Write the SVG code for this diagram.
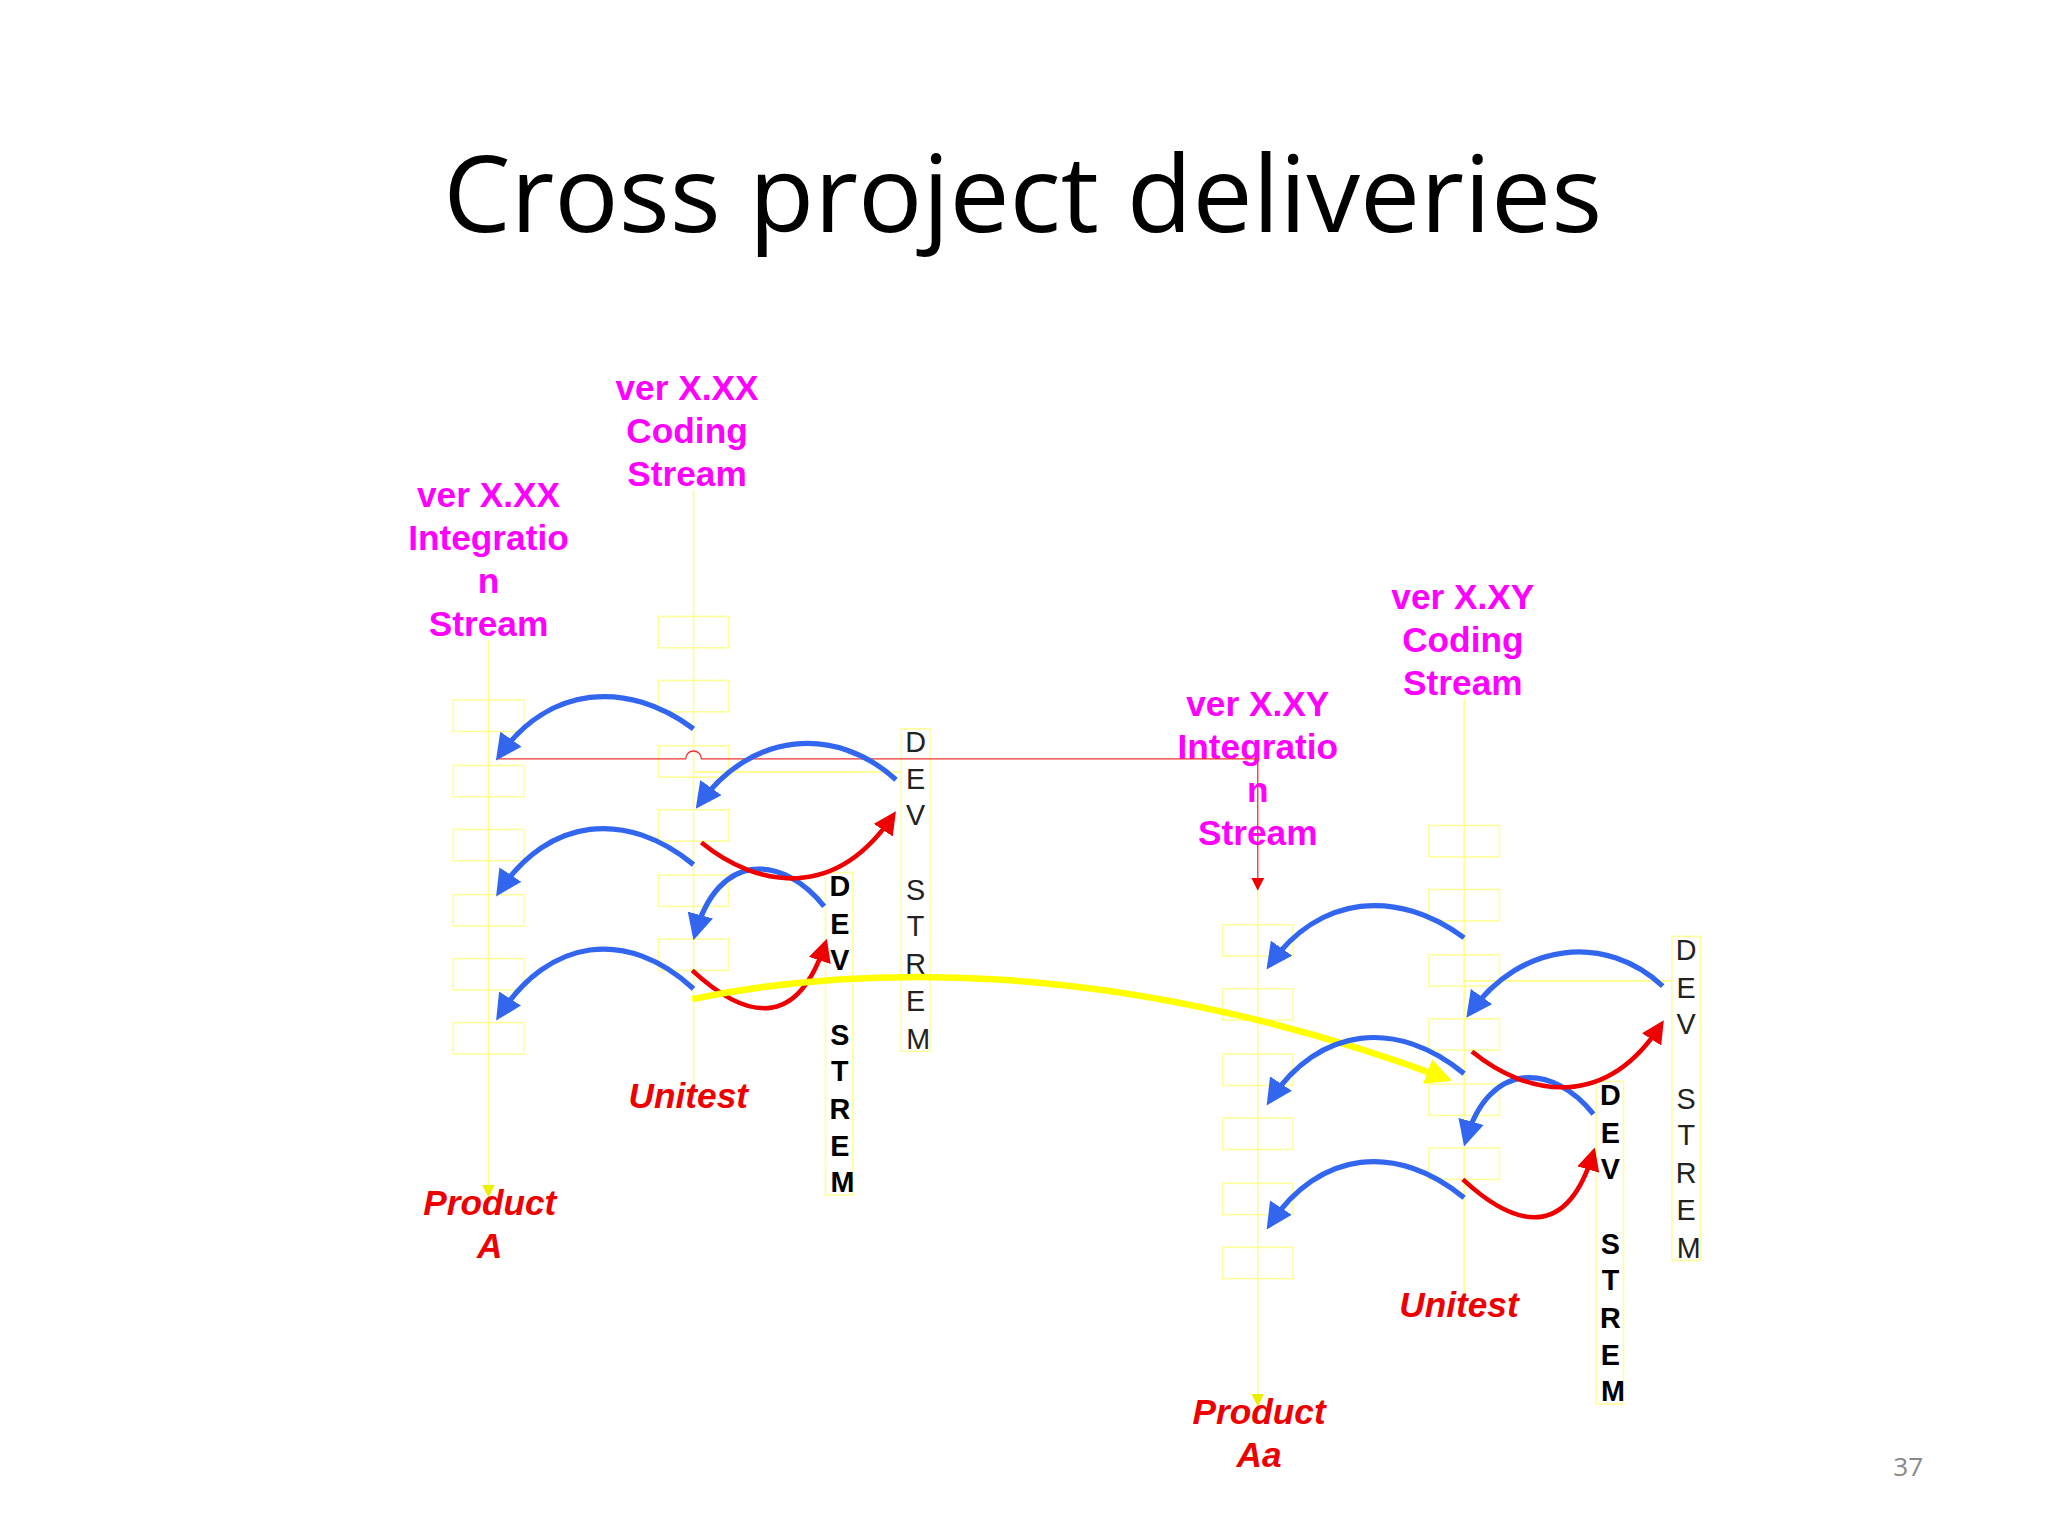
<svg xmlns="http://www.w3.org/2000/svg" width="2048" height="1536" viewBox="0 0 2048 1536">
<defs>
<style>
.lbl{font-family:"Liberation Sans",Arial,sans-serif;font-weight:bold;font-size:27px;fill:#ff00ff;text-anchor:middle}
.red{font-family:"Liberation Sans",Arial,sans-serif;font-weight:bold;font-style:italic;font-size:27px;fill:#ee0000;text-anchor:middle}
.dv{font-family:"Liberation Sans",Arial,sans-serif;font-size:22px;fill:#222;text-anchor:middle}
.dvb{font-family:"Liberation Sans",Arial,sans-serif;font-weight:bold;font-size:22px;fill:#000;text-anchor:middle}
.box{fill:none;stroke:#ffff99;stroke-width:1.2}
.yl{stroke:#ffff88;stroke-width:1.2;fill:none}
.b{fill:none;stroke:#3366ee;stroke-width:4;marker-end:url(#ab)}
.r{fill:none;stroke:#ee0000;stroke-width:3.5;marker-end:url(#ar)}
</style>
<marker id="ab" viewBox="0 0 10 10" refX="8" refY="5" markerWidth="5" markerHeight="5" orient="auto"><path d="M0,0L10,5L0,10z" fill="#3366ee"/></marker>
<marker id="ar" viewBox="0 0 10 10" refX="8" refY="5" markerWidth="5" markerHeight="5" orient="auto"><path d="M0,0L10,5L0,10z" fill="#ee0000"/></marker>
<marker id="ay" viewBox="0 0 10 10" refX="8" refY="5" markerWidth="4" markerHeight="4" orient="auto"><path d="M0,0L10,5L0,10z" fill="#ffff00"/></marker>
<marker id="ar2" viewBox="0 0 10 10" refX="8" refY="5" markerWidth="10" markerHeight="10" orient="auto"><path d="M0,0L10,5L0,10z" fill="#ee0000"/></marker>
<marker id="ay2" viewBox="0 0 10 10" refX="8" refY="5" markerWidth="8" markerHeight="8" orient="auto"><path d="M0,0L10,5L0,10z" fill="#eeee00"/></marker>
</defs>
<rect width="2048" height="1536" fill="#ffffff"/>
<g transform="scale(1.3061)">
<text x="783" y="178" style="font-family:'Open Sans','Liberation Sans',sans-serif;font-size:82px;fill:#000;text-anchor:middle">Cross project deliveries</text>
<text x="1461" y="1130" style="font-family:'Open Sans','Liberation Sans',sans-serif;font-size:20px;fill:#888;text-anchor:middle">37</text>

<g id="int-xx">
<line class="yl" x1="374" y1="490" x2="374" y2="915" marker-end="url(#ay2)"/>
<rect class="box" x="347" y="536" width="54" height="24"/><rect class="box" x="347" y="586" width="54" height="24"/><rect class="box" x="347" y="635" width="54" height="24"/><rect class="box" x="347" y="685" width="54" height="24"/><rect class="box" x="347" y="734" width="54" height="24"/><rect class="box" x="347" y="783" width="54" height="24"/>
<text class="lbl"><tspan x="374" y="388">ver X.XX</tspan><tspan x="374" y="421">Integratio</tspan><tspan x="374" y="454">n</tspan><tspan x="374" y="487">Stream</tspan></text>
<text class="red"><tspan x="375" y="930">Product</tspan><tspan x="375" y="963">A</tspan></text>
</g>
<g id="cod-xx">
<line class="yl" x1="531" y1="375" x2="531" y2="830"/>
<line class="yl" x1="531" y1="591" x2="690" y2="591"/>
<rect class="box" x="504" y="472" width="54" height="24"/><rect class="box" x="504" y="521" width="54" height="24"/><rect class="box" x="504" y="571" width="54" height="24"/><rect class="box" x="504" y="620" width="54" height="24"/><rect class="box" x="504" y="670" width="54" height="24"/><rect class="box" x="504" y="719" width="54" height="24"/>
<text class="lbl"><tspan x="526" y="306">ver X.XX</tspan><tspan x="526" y="339">Coding</tspan><tspan x="526" y="372">Stream</tspan></text>
<text class="red" x="527" y="848">Unitest</text>
</g>
<g id="dev-xx-outer">
<rect class="box" x="690" y="558" width="22" height="247"/>
<text class="dv"><tspan x="701" y="576">D</tspan><tspan x="701" y="604">E</tspan><tspan x="701" y="632">V</tspan><tspan x="701" y="689">S</tspan><tspan x="701" y="717">T</tspan><tspan x="701" y="746">R</tspan><tspan x="701" y="774">E</tspan><tspan x="703" y="803">M</tspan></text>
</g>
<g id="dev-xx-inner">
<rect class="box" x="632" y="668" width="21" height="247"/>
<text class="dvb"><tspan x="643" y="686">D</tspan><tspan x="643" y="715">E</tspan><tspan x="643" y="743">V</tspan><tspan x="643" y="800">S</tspan><tspan x="643" y="828">T</tspan><tspan x="643" y="857">R</tspan><tspan x="643" y="885">E</tspan><tspan x="645" y="913">M</tspan></text>
</g>

<g id="int-xy">
<line class="yl" x1="963" y1="680" x2="963" y2="1075" marker-end="url(#ay2)"/>
<rect class="box" x="936" y="708" width="54" height="24"/><rect class="box" x="936" y="757" width="54" height="24"/><rect class="box" x="936" y="807" width="54" height="24"/><rect class="box" x="936" y="856" width="54" height="24"/><rect class="box" x="936" y="906" width="54" height="24"/><rect class="box" x="936" y="955" width="54" height="24"/>
<text class="lbl"><tspan x="963" y="548">ver X.XY</tspan><tspan x="963" y="581">Integratio</tspan><tspan x="963" y="614">n</tspan><tspan x="963" y="647">Stream</tspan></text>
<text class="red"><tspan x="964" y="1090">Product</tspan><tspan x="964" y="1123">Aa</tspan></text>
</g>
<g id="cod-xy">
<line class="yl" x1="1121" y1="535" x2="1121" y2="990"/>
<line class="yl" x1="1121" y1="751" x2="1280" y2="751"/>
<rect class="box" x="1094" y="632" width="54" height="24"/><rect class="box" x="1094" y="681" width="54" height="24"/><rect class="box" x="1094" y="731" width="54" height="24"/><rect class="box" x="1094" y="780" width="54" height="24"/><rect class="box" x="1094" y="830" width="54" height="24"/><rect class="box" x="1094" y="879" width="54" height="24"/>
<text class="lbl"><tspan x="1120" y="466">ver X.XY</tspan><tspan x="1120" y="499">Coding</tspan><tspan x="1120" y="532">Stream</tspan></text>
<text class="red" x="1117" y="1008">Unitest</text>
</g>
<g id="dev-xy-outer">
<rect class="box" x="1280" y="717" width="22" height="248"/>
<text class="dv"><tspan x="1291" y="735">D</tspan><tspan x="1291" y="764">E</tspan><tspan x="1291" y="792">V</tspan><tspan x="1291" y="849">S</tspan><tspan x="1291" y="877">T</tspan><tspan x="1291" y="906">R</tspan><tspan x="1291" y="934">E</tspan><tspan x="1293" y="963">M</tspan></text>
</g>
<g id="dev-xy-inner">
<rect class="box" x="1222" y="828" width="21" height="247"/>
<text class="dvb"><tspan x="1233" y="846">D</tspan><tspan x="1233" y="875">E</tspan><tspan x="1233" y="903">V</tspan><tspan x="1233" y="960">S</tspan><tspan x="1233" y="988">T</tspan><tspan x="1233" y="1017">R</tspan><tspan x="1233" y="1045">E</tspan><tspan x="1235" y="1073">M</tspan></text>
</g>

<g id="connectors">
<path d="M380,581 H525 A6,6 0 0 1 537,581 H963 V680" fill="none" stroke="#ee3333" stroke-width="1" marker-end="url(#ar2)"/>
<path class="b" d="M531,558 C480,520 420,525 382,579"/>
<path class="b" d="M531,662 C480,620 420,625 382,683"/>
<path class="b" d="M531,757 C480,710 420,718 382,778"/>
<path class="b" d="M686,597 C640,555 575,560 535,616"/>
<path class="b" d="M631,694 C600,655 550,650 532,716"/>
<path class="r" d="M537,645 C580,680 640,690 684,624"/>
<path class="r" d="M530,743 C570,780 610,790 632,722"/>
<path d="M530,765 C650,740 850,730 1108,826" fill="none" stroke="#ffff00" stroke-width="5" marker-end="url(#ay)"/>
<path class="b" d="M1121,718 C1070,680 1010,685 972,739"/>
<path class="b" d="M1121,822 C1070,780 1010,785 972,843"/>
<path class="b" d="M1121,917 C1070,875 1010,880 972,938"/>
<path class="b" d="M1273,755 C1230,715 1165,720 1125,776"/>
<path class="b" d="M1220,853 C1190,815 1140,810 1122,874"/>
<path class="r" d="M1127,805 C1170,840 1230,850 1272,784"/>
<path class="r" d="M1120,903 C1160,940 1200,950 1220,882"/>
</g>
</g>
</svg>
